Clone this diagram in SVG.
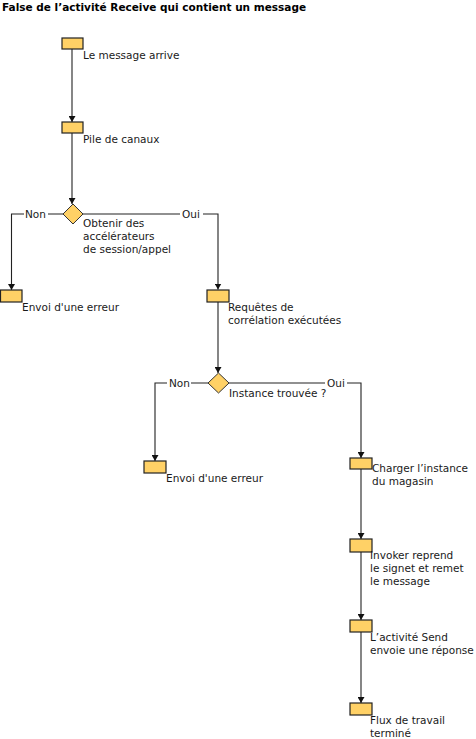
<svg xmlns="http://www.w3.org/2000/svg" width="476" height="739" viewBox="0 0 476 739">
  <style>
    text { font-family: "DejaVu Sans", Verdana, sans-serif; font-size: 10.5px; fill: #1a1a1a; }
    .title { font-weight: bold; font-size: 10.5px; fill: #000; }
    .box { fill: #FFD166; stroke: #222; stroke-width: 1.2; }
    .dia { fill: #FFD166; stroke: #333; stroke-width: 1; }
    .wire { fill: none; stroke: #222; stroke-width: 1.1; }
    .mask { fill: #fff; }
  </style>
  <defs>
    <marker id="arrow" viewBox="0 0 6 7" refX="6" refY="3.5" markerWidth="6" markerHeight="7" orient="auto" markerUnits="userSpaceOnUse">
      <path d="M0,0 L6,3.5 L0,7 Z" fill="#111"/>
    </marker>
  </defs>

  <rect width="476" height="739" fill="#fff"/>
  <text class="title" x="2" y="11">False de l’activité Receive qui contient un message</text>

  <!-- connectors -->
  <g id="connectors">
    <path class="wire" d="M72,49 V122" marker-end="url(#arrow)"/>
    <path class="wire" d="M72,133 V204" marker-end="url(#arrow)"/>
    <path class="wire" d="M63,214 H11.5 V290" marker-end="url(#arrow)"/>
    <path class="wire" d="M83,214 H218 V289.5" marker-end="url(#arrow)"/>
    <path class="wire" d="M218,302 V373" marker-end="url(#arrow)"/>
    <path class="wire" d="M208,383 H155 V461" marker-end="url(#arrow)"/>
    <path class="wire" d="M229,383 H361 V458" marker-end="url(#arrow)"/>
    <path class="wire" d="M361,469 V539" marker-end="url(#arrow)"/>
    <path class="wire" d="M361,552 V620" marker-end="url(#arrow)"/>
    <path class="wire" d="M361,632 V703" marker-end="url(#arrow)"/>
    <!-- branch labels sitting on the wires -->
    <rect class="mask" x="24" y="208" width="24" height="12"/>
    <text x="25" y="218">Non</text>
    <rect class="mask" x="180" y="208" width="23" height="12"/>
    <text x="182" y="218">Oui</text>
    <rect class="mask" x="167" y="377" width="24" height="12"/>
    <text x="169" y="387">Non</text>
    <rect class="mask" x="325" y="377" width="22" height="12"/>
    <text x="327" y="387">Oui</text>
  </g>

  <g id="message-arrive">
    <rect class="box" x="62" y="38" width="21" height="11"/>
    <text x="83" y="59">Le message arrive</text>
  </g>

  <g id="pile-canaux">
    <rect class="box" x="62" y="122" width="21" height="11"/>
    <text x="83" y="143">Pile de canaux</text>
  </g>

  <g id="decision-accelerateurs">
    <path class="dia" d="M73,204 L83,214 L73,224 L63,214 Z"/>
    <text x="83" y="227">Obtenir des</text>
    <text x="83" y="240">accélérateurs</text>
    <text x="83" y="253">de session/appel</text>
  </g>

  <g id="erreur-1">
    <rect class="box" x="0.5" y="290" width="21.5" height="12"/>
    <text x="22" y="311">Envoi d'une erreur</text>
  </g>

  <g id="requetes-correlation">
    <rect class="box" x="207" y="290" width="22" height="12"/>
    <text x="228" y="311">Requêtes de</text>
    <text x="228" y="324">corrélation exécutées</text>
  </g>

  <g id="decision-instance">
    <path class="dia" d="M218.5,373 L229,383 L218.5,393 L208,383 Z"/>
    <text x="229" y="397">Instance trouvée ?</text>
  </g>

  <g id="erreur-2">
    <rect class="box" x="144" y="461" width="22" height="12"/>
    <text x="166" y="482">Envoi d'une erreur</text>
  </g>

  <g id="charger-instance">
    <rect class="box" x="350" y="458" width="22" height="11"/>
    <text x="372" y="472">Charger l’instance</text>
    <text x="372" y="485">du magasin</text>
  </g>

  <g id="invoker">
    <rect class="box" x="350" y="539" width="22" height="13"/>
    <text x="370" y="559">Invoker reprend</text>
    <text x="370" y="572">le signet et remet</text>
    <text x="370" y="585">le message</text>
  </g>

  <g id="send">
    <rect class="box" x="350" y="620" width="22" height="12"/>
    <text x="370" y="641">L’activité Send</text>
    <text x="370" y="654">envoie une réponse</text>
  </g>

  <g id="flux-termine">
    <rect class="box" x="350" y="703" width="22" height="12"/>
    <text x="370" y="724">Flux de travail</text>
    <text x="370" y="737">terminé</text>
  </g>
</svg>
